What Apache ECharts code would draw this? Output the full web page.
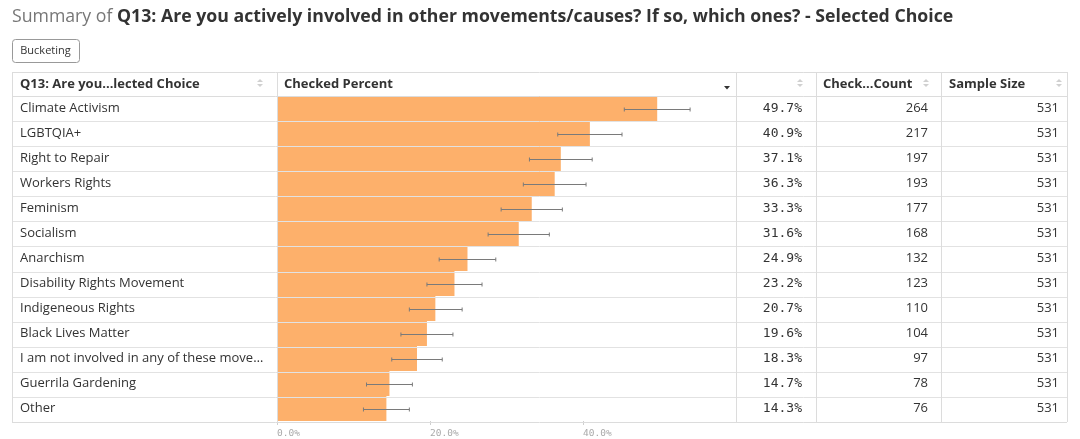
<!DOCTYPE html>
<html>
<head>
<meta charset="utf-8">
<script src="https://cdn.jsdelivr.net/npm/echarts@6/dist/echarts.min.js"></script>
<style>html,body{margin:0;padding:0;background:#fff}#c{width:1080px;height:439px}</style>
</head>
<body>
<div id="c"></div>
<script>
const categories = ["Climate Activism","LGBTQIA+","Right to Repair","Workers Rights","Feminism","Socialism","Anarchism","Disability Rights Movement","Indigeneous Rights","Black Lives Matter","I am not involved in any of these move\u2026","Guerrila Gardening","Other"];
const checkedPercent = [49.7,40.9,37.1,36.3,33.3,31.6,24.9,23.2,20.7,19.6,18.3,14.7,14.3];
const ciLow  = [45.4,36.7,33.0,32.2,29.3,27.6,21.2,19.6,17.3,16.2,15.0,11.7,11.3];
const ciHigh = [54.0,45.1,41.2,40.4,37.3,35.6,28.6,26.8,24.2,23.0,21.6,17.7,17.3];
const checkedCount = [264,217,197,193,177,168,132,123,110,104,97,78,76];
const sampleSize = [531,531,531,531,531,531,531,531,531,531,531,531,531];
const xTicks = [0,20,40,60];
const headers = ["Q13: Are you...lected Choice","Checked Percent","","Check...Count","Sample Size"];

const SANS = "'Open Sans', sans-serif";
const MONO = "'DejaVu Sans Mono', monospace";
const T = {top:72, head:96, bottom:422, left:12, right:1067};
const colX = [12,277,736,816,941,1067];
const rowH = (T.bottom - T.head) / categories.length;

const chart = echarts.init(document.getElementById('c'));
const graphics = [];
// title
graphics.push({type:'text', left:12, top:8, z:100, style:{
  text:'{a|Summary of }{b|Q13: Are you actively involved in other movements/causes? If so, which ones? - Selected Choice}',
  rich:{a:{fontFamily:SANS,fontSize:17.7,fill:'#777'},b:{fontFamily:SANS,fontSize:17.7,fontWeight:'bold',fill:'#333'}}
}});
// bucketing button
graphics.push({type:'rect', z:100, shape:{x:12.5,y:39.5,width:67,height:23,r:3}, style:{fill:'#fff',stroke:'#999',lineWidth:1}});
graphics.push({type:'text', z:101, x:45.5, y:51, style:{text:'Bucketing',fontFamily:SANS,fontSize:11,fill:'#333',align:'center',verticalAlign:'middle'}});
// table horizontal lines
for (let i = 1; i < categories.length; i++) {
  const y = Math.round(T.head + i*rowH) + 0.5;
  graphics.push({type:'line', z:100, shape:{x1:T.left,y1:y,x2:T.right,y2:y}, style:{stroke:'#e2e2e2',lineWidth:1}});
}
[T.top, T.head, T.bottom].forEach(y=>{
  graphics.push({type:'line', z:100, shape:{x1:T.left,y1:y+0.5,x2:T.right,y2:y+0.5}, style:{stroke:'#dcdcdc',lineWidth:1}});
});
colX.forEach(x=>{
  graphics.push({type:'line', z:100, shape:{x1:x+0.5,y1:T.top,x2:x+0.5,y2:T.bottom}, style:{stroke:'#dcdcdc',lineWidth:1}});
});
// headers
const headX = [20,284,0,823,949];
headers.forEach((h,i)=>{
  if (!h) return;
  graphics.push({type:'text', z:101, x:headX[i], y:84.5, style:{text:h,fontFamily:SANS,fontSize:13,fontWeight:'bold',fill:'#333',verticalAlign:'middle'}});
});
// sort icons
[260,800,926,1059].forEach(x=>{
  graphics.push({type:'polygon', z:101, shape:{points:[[x-3,82],[x+3,82],[x,79]]}, style:{fill:'#d0d0d0'}});
  graphics.push({type:'polygon', z:101, shape:{points:[[x-3,84],[x+3,84],[x,87]]}, style:{fill:'#d0d0d0'}});
});
// dropdown arrow
graphics.push({type:'polygon', z:101, shape:{points:[[724,86],[730,86],[727,89.5]]}, style:{fill:'#333'}});

const errData = categories.map((c,i)=>[i, ciLow[i], ciHigh[i]]);

const yBase = {type:'category', data:categories, inverse:true, gridIndex:0,
  axisLine:{show:false}, axisTick:{show:false}, splitLine:{show:false}};
const lblPad = [5,0,0,0];

chart.setOption({
  animation:false,
  grid:{left:277, right:1080-736, top:T.head, bottom:439-T.bottom, containLabel:false},
  xAxis:{type:'value', min:xTicks[0], max:xTicks[xTicks.length-1], interval:20,
    axisLine:{show:false}, splitLine:{show:false},
    axisTick:{show:true, length:4, lineStyle:{color:'#cfcfcf'}},
    axisLabel:{showMaxLabel:false, align:'left', margin:8, fontFamily:MONO, fontSize:9.5, color:'#aaa',
      formatter:v=>v.toFixed(1)+'%'}},
  yAxis:[
    Object.assign({}, yBase, {position:'left', data:categories,
      axisLabel:{align:'left', margin:257, fontFamily:SANS, fontSize:13, color:'#333', padding:lblPad}}),
    Object.assign({}, yBase, {position:'right', data:checkedPercent.map(v=>v.toFixed(1)+'%'),
      axisLabel:{align:'right', margin:66, fontFamily:MONO, fontSize:13, color:'#333', padding:lblPad}}),
    Object.assign({}, yBase, {position:'right', data:checkedCount.map(String),
      axisLabel:{align:'right', margin:192, fontFamily:SANS, fontSize:13, color:'#333', padding:lblPad}}),
    Object.assign({}, yBase, {position:'right', data:sampleSize.map(String),
      axisLabel:{align:'right', margin:323, fontFamily:SANS, fontSize:13, color:'#333', padding:lblPad}})
  ],
  series:[
    {type:'bar', yAxisIndex:0, data:checkedPercent, barCategoryGap:'0%', itemStyle:{color:'#FDB06B'}, z:2},
    {type:'custom', yAxisIndex:0, data:errData, encode:{x:[1,2], y:0}, z:5,
      renderItem:function(params, api){
        const idx = api.value(0);
        const p1 = api.coord([api.value(1), idx]);
        const p2 = api.coord([api.value(2), idx]);
        const y = Math.round(p1[1]) + 0.5;
        const st = {stroke:'#7a7a7a', lineWidth:1};
        return {type:'group', children:[
          {type:'line', shape:{x1:p1[0],y1:y,x2:p2[0],y2:y}, style:st},
          {type:'line', shape:{x1:p1[0],y1:y-2,x2:p1[0],y2:y+2}, style:st},
          {type:'line', shape:{x1:p2[0],y1:y-2,x2:p2[0],y2:y+2}, style:st}
        ]};
      }}
  ],
  graphic:graphics
});
</script>
</body>
</html>
